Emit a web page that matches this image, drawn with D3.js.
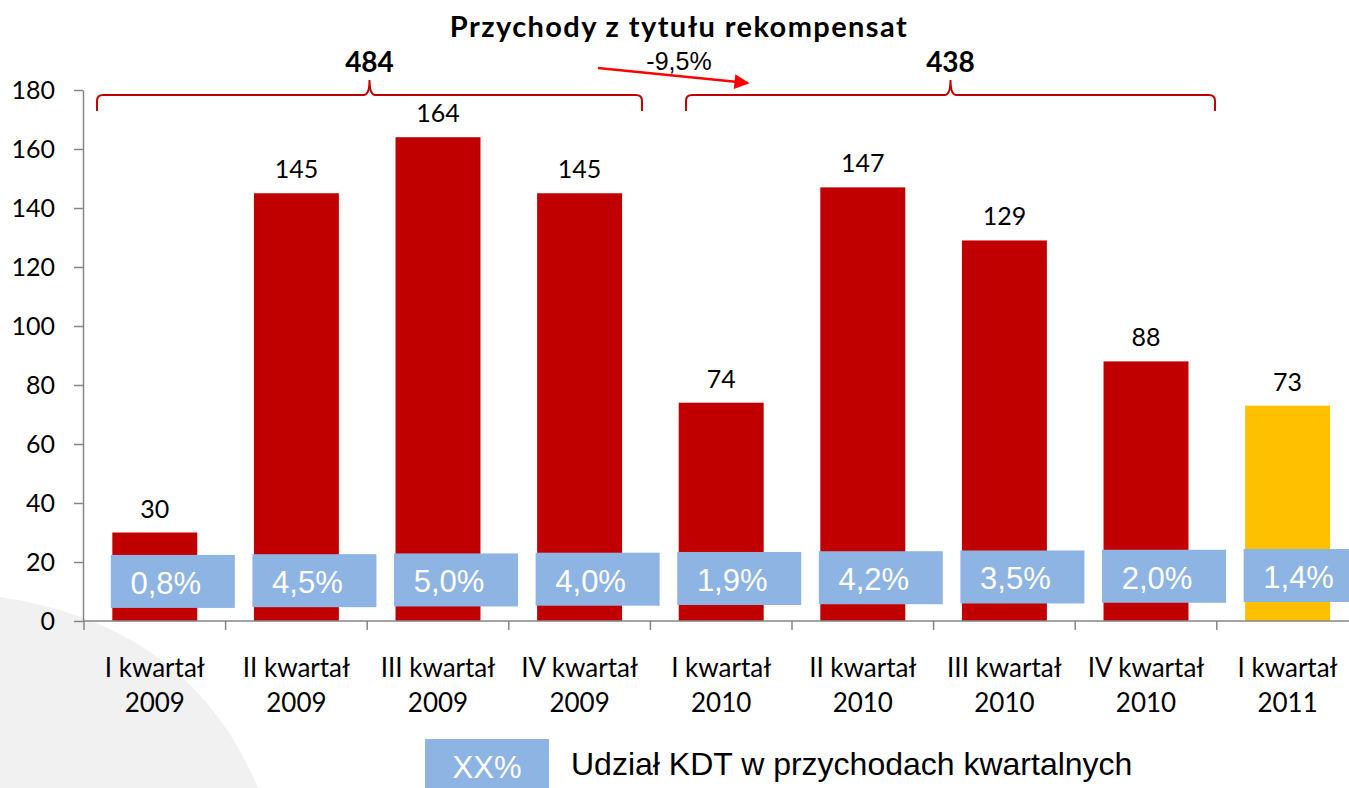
<!DOCTYPE html>
<html>
<head>
<meta charset="utf-8">
<script src="https://cdn.jsdelivr.net/npm/d3@7"></script>
<style>
  body { margin: 0; background: #fff; }
  svg { display: block; }
</style>
</head>
<body>
<script>
// dane
const quarters = ['I kwartał', 'II kwartał', 'III kwartał', 'IV kwartał', 'I kwartał', 'II kwartał', 'III kwartał', 'IV kwartał', 'I kwartał']
const years = ['2009', '2009', '2009', '2009', '2010', '2010', '2010', '2010', '2011']
const values = [30, 145, 164, 145, 74, 147, 129, 88, 73]
const shares = ['0,8%', '4,5%', '5,0%', '4,0%', '1,9%', '4,2%', '3,5%', '2,0%', '1,4%']
const yTicks = [0, 20, 40, 60, 80, 100, 120, 140, 160, 180]
const yearSums = [{label: '484', from: 0, to: 3}, {label: '438', from: 4, to: 7}]
const change = '-9,5%'

const width = 1349
const height = 788
const calibri = 'Lato, "Open Sans", sans-serif'
const arial = '"Liberation Sans", Arial, sans-serif'

const svg = d3.select('body').append('svg')
    .attr('width', width)
    .attr('height', height)

// szare tło w lewym dolnym rogu
svg.append('path')
    .attr('d', 'M0,597 Q190,625 258,788 L0,788 Z')
    .attr('fill', '#f1f1f1')

const x = d3.scaleBand()
    .domain(d3.range(values.length))
    .range([84, 84 + 141.6 * values.length])
    .paddingInner(0.4)
    .paddingOuter(0.2)
const y = d3.scaleLinear().domain([0, 180]).range([621, 90])
const cx = i => x(i) + x.bandwidth() / 2

// oś Y
const yAxis = svg.append('g')
    .attr('transform', 'translate(83,0)')
    .call(d3.axisLeft(y).tickValues(yTicks).tickSize(9).tickSizeOuter(0).tickPadding(19))
yAxis.select('.domain').attr('stroke', '#868686').attr('stroke-width', 1.5)
yAxis.selectAll('.tick line').attr('stroke', '#868686').attr('stroke-width', 1.5)
yAxis.selectAll('.tick text')
    .attr('font-family', calibri)
    .attr('font-size', 25)
    .attr('fill', '#000')

// słupki
svg.selectAll('rect.bar').data(values)
    .enter()
    .append('rect')
    .attr('class', 'bar')
    .attr('x', (d, i) => x(i))
    .attr('y', d => y(d))
    .attr('width', x.bandwidth())
    .attr('height', d => y(0) - y(d))
    .attr('fill', (d, i) => i === values.length - 1 ? '#FFC000' : '#C00000')

// oś X
svg.append('line')
    .attr('x1', 83).attr('x2', width)
    .attr('y1', y(0)).attr('y2', y(0))
    .attr('stroke', '#868686').attr('stroke-width', 1.5)
svg.selectAll('line.xtick').data(d3.range(values.length + 1))
    .enter()
    .append('line')
    .attr('class', 'xtick')
    .attr('x1', i => 84 + i * x.step())
    .attr('x2', i => 84 + i * x.step())
    .attr('y1', y(0)).attr('y2', y(0) + 9)
    .attr('stroke', '#868686').attr('stroke-width', 1.5)

const xl = svg.selectAll('text.xlab').data(quarters)
    .enter()
    .append('text')
    .attr('class', 'xlab')
    .attr('text-anchor', 'middle')
    .attr('font-family', calibri)
    .attr('font-size', 26)
    .attr('fill', '#000')
xl.append('tspan').attr('x', (d, i) => cx(i)).attr('y', 677).text(d => d)
xl.append('tspan').attr('x', (d, i) => cx(i)).attr('y', 712).text((d, i) => years[i])

// wartości nad słupkami
svg.selectAll('text.val').data(values)
    .enter()
    .append('text')
    .attr('class', 'val')
    .attr('x', (d, i) => cx(i))
    .attr('y', d => y(d) - 15)
    .attr('text-anchor', 'middle')
    .attr('font-family', calibri)
    .attr('font-size', 25)
    .attr('fill', '#000')
    .text(d => d)

// udział KDT - niebieskie etykiety
const boxW = 124
const boxH = 53
const boxes = svg.selectAll('g.share').data(shares)
    .enter()
    .append('g')
    .attr('class', 'share')
    .attr('transform', (d, i) => `translate(${x(i) - 1.5},${y(22.4 + i * 0.25)})`)
boxes.append('rect')
    .attr('width', boxW)
    .attr('height', boxH)
    .attr('fill', '#8EB4E3')
boxes.append('text')
    .attr('x', boxW / 2 - 7)
    .attr('y', 39)
    .attr('text-anchor', 'middle')
    .attr('font-family', arial)
    .attr('font-size', 31)
    .attr('fill', '#fff')
    .text(d => d)

// tytuł
svg.append('text')
    .attr('x', 679)
    .attr('y', 37)
    .attr('text-anchor', 'middle')
    .attr('font-family', calibri)
    .attr('font-size', 29)
    .attr('font-weight', 'bold')
    .attr('letter-spacing', 1.4)
    .attr('fill', '#000')
    .text('Przychody z tytułu rekompensat')

// klamry z sumami rocznymi
const brace = (x1, x2, top, tip, bottom) => {
    const m = (x1 + x2) / 2
    const r = 6
    return `M${x1},${bottom} L${x1},${top + r} Q${x1},${top} ${x1 + r},${top}` +
        ` L${m - r},${top} Q${m},${top} ${m},${tip}` +
        ` Q${m},${top} ${m + r},${top} L${x2 - r},${top} Q${x2},${top} ${x2},${top + r} L${x2},${bottom}`
}
const braceEnds = [[97, 642], [686, 1215]]
yearSums.forEach((s, k) => {
    const [b1, b2] = braceEnds[k]
    svg.append('path')
        .attr('d', brace(b1, b2, 95, 80, 111))
        .attr('fill', 'none')
        .attr('stroke', '#C00000')
        .attr('stroke-width', 2)
    svg.append('text')
        .attr('x', (b1 + b2) / 2)
        .attr('y', 72)
        .attr('text-anchor', 'middle')
        .attr('font-family', calibri)
        .attr('font-size', 28)
        .attr('font-weight', 'bold')
        .attr('fill', '#000')
        .text(s.label)
})

// strzałka zmiany r/r
svg.append('defs').append('marker')
    .attr('id', 'head')
    .attr('viewBox', '0 0 10 10')
    .attr('refX', 9).attr('refY', 5)
    .attr('markerWidth', 6.5).attr('markerHeight', 6)
    .attr('orient', 'auto')
    .append('path')
    .attr('d', 'M0,0 L10,5 L0,10 Z')
    .attr('fill', '#FF0000')
svg.append('line')
    .attr('x1', 598).attr('y1', 68)
    .attr('x2', 748).attr('y2', 83)
    .attr('stroke', '#FF0000')
    .attr('stroke-width', 2.5)
    .attr('marker-end', 'url(#head)')
svg.append('text')
    .attr('x', 679)
    .attr('y', 70)
    .attr('text-anchor', 'middle')
    .attr('font-family', arial)
    .attr('font-size', 25)
    .attr('fill', '#000')
    .text(change)

// legenda
svg.append('rect')
    .attr('x', 425).attr('y', 739)
    .attr('width', 124).attr('height', 50)
    .attr('fill', '#8EB4E3')
svg.append('text')
    .attr('x', 487).attr('y', 778)
    .attr('text-anchor', 'middle')
    .attr('font-family', arial)
    .attr('font-size', 31)
    .attr('fill', '#fff')
    .text('XX%')
svg.append('text')
    .attr('x', 571).attr('y', 775)
    .attr('font-family', arial)
    .attr('font-size', 32)
    .attr('fill', '#000')
    .text('Udział KDT w przychodach kwartalnych')
</script>
</body>
</html>
